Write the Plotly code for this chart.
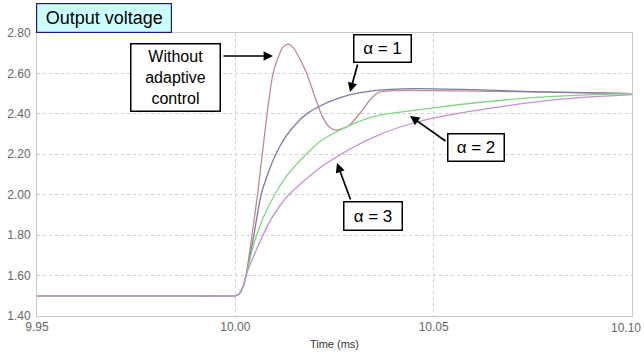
import plotly.graph_objects as go

# ---- data ----
t_noadapt = [9.95, 9.990, 10.000, 10.0010, 10.0020, 10.0027, 10.0042, 10.0056, 10.0068, 10.0080, 10.0095,
             10.0108, 10.0120, 10.0133, 10.0147, 10.0163, 10.0180, 10.0203, 10.0220, 10.0237, 10.0254,
             10.0285, 10.0317, 10.0340, 10.0360, 10.040, 10.050, 10.070, 10.085, 10.100]
v_noadapt = [1.50, 1.50, 1.50, 1.51, 1.55, 1.60, 1.80, 2.00, 2.20, 2.40, 2.60,
             2.68, 2.73, 2.745, 2.725, 2.67, 2.60, 2.47, 2.385, 2.335, 2.32,
             2.34, 2.41, 2.47, 2.505, 2.515, 2.515, 2.51, 2.505, 2.50]

t_a1 = [9.95, 9.990, 10.000, 10.0010, 10.0020, 10.0027, 10.0045, 10.0065, 10.0085, 10.0102, 10.0128,
        10.0155, 10.0180, 10.0215, 10.0250, 10.0290, 10.0350, 10.045, 10.060, 10.075, 10.100]
v_a1 = [1.50, 1.50, 1.50, 1.51, 1.55, 1.60, 1.78, 2.00, 2.12, 2.20, 2.29,
        2.355, 2.40, 2.44, 2.47, 2.495, 2.515, 2.525, 2.52, 2.51, 2.50]

t_a2 = [9.95, 9.990, 10.000, 10.0010, 10.0020, 10.0027, 10.0047, 10.0070, 10.0095, 10.0128, 10.0171,
        10.0211, 10.0254, 10.0297, 10.0355, 10.044, 10.050, 10.0584, 10.075, 10.090, 10.100]
v_a2 = [1.50, 1.50, 1.50, 1.51, 1.55, 1.60, 1.76, 1.885, 1.985, 2.09, 2.185,
        2.26, 2.31, 2.35, 2.39, 2.415, 2.43, 2.45, 2.48, 2.495, 2.50]

t_a3 = [9.95, 9.990, 10.000, 10.0010, 10.0020, 10.0027, 10.0065, 10.0095, 10.0128, 10.0171, 10.0211,
        10.0254, 10.0297, 10.0355, 10.0415, 10.050, 10.0667, 10.0836, 10.100]
v_a3 = [1.50, 1.50, 1.50, 1.51, 1.55, 1.60, 1.78, 1.895, 1.985, 2.065, 2.13,
        2.185, 2.235, 2.29, 2.335, 2.38, 2.435, 2.475, 2.495]

x_ticks = [9.95, 10.00, 10.05, 10.10]
x_labels = ["9.95", "10.00", "10.05", ""]
last_x_label = "10.10"
y_ticks = [1.40, 1.60, 1.80, 2.00, 2.20, 2.40, 2.60, 2.80]

FONT = "Arial, Liberation Sans, sans-serif"

# plot-area geometry (pixels) used to place the callout boxes/arrows
L, R, T, B = 37, 632, 33, 316
X0, X1, Y0, Y1 = 9.95, 10.10, 1.40, 2.80


def px_to_data(px, py):
    return (X0 + (px - L) * (X1 - X0) / (R - L), Y1 - (py - T) * (Y1 - Y0) / (B - T))


fig = go.Figure()
series = [
    (t_noadapt, v_noadapt, "#c48a8a", "Without adaptive control"),
    (t_a1, v_a1, "#7c7ca4", "α = 1"),
    (t_a2, v_a2, "#80d880", "α = 2"),
    (t_a3, v_a3, "#c88ed8", "α = 3"),
]
for t, v, c, n in series:
    fig.add_trace(go.Scatter(x=t, y=v, mode="lines", name=n,
                             line=dict(color=c, width=1.3, shape="spline", smoothing=0.7)))

fig.update_layout(
    width=644, height=358,
    margin=dict(l=L, r=644 - R, t=T, b=358 - B),
    paper_bgcolor="white", plot_bgcolor="white",
    showlegend=False,
    font=dict(family=FONT, color="#555555", size=11),
)
fig.update_xaxes(range=[X0 - 1e-6, X1 + 1e-6], tickvals=x_ticks, ticktext=x_labels,
                 automargin=False,
                 showgrid=True, gridcolor="#cfcfcf", griddash="dot", gridwidth=1,
                 showline=True, linecolor="#c8c8c8", linewidth=1, mirror=True,
                 zeroline=False, ticks="", tickfont=dict(size=12, color="#666666"),
                 title=dict(text="Time (ms)", font=dict(size=11, color="#333333"), standoff=6))
fig.update_yaxes(range=[Y0, Y1], tickvals=y_ticks, tickformat=".2f", automargin=False,
                 showgrid=True, gridcolor="#cfcfcf", griddash="dot", gridwidth=1,
                 showline=True, linecolor="#c8c8c8", linewidth=1, mirror=True,
                 zeroline=False, ticks="", tickfont=dict(size=12, color="#666666"),
                 ticklabelstandoff=3)

# last x tick label, kept inside the page
fig.add_annotation(xref="paper", yref="paper", x=1.0, y=0.0, xanchor="right", yanchor="top",
                   xshift=11, yshift=-3, text=last_x_label, showarrow=False,
                   font=dict(family=FONT, size=12, color="#666666"))

# Title box
fig.add_annotation(xref="paper", yref="paper", x=0.0, y=1.0, xanchor="left", yanchor="bottom",
                   xshift=-1, yshift=0, text="Output voltage", showarrow=False,
                   font=dict(family=FONT, size=18, color="black"),
                   bgcolor="#ccffff", bordercolor="#1a1a8c", borderwidth=1.2, borderpad=0,
                   width=134, height=28, align="center")


def box(text, cx, cy, w, h, size=17):
    x, y = px_to_data(cx, cy)
    fig.add_annotation(x=x, y=y, xref="x", yref="y", text=text, showarrow=False,
                       font=dict(family=FONT, size=size, color="black"),
                       bgcolor="white", bordercolor="black", borderwidth=1.5, borderpad=0,
                       width=w, height=h, align="center")


def arrow(tail, tip):
    tx, ty = px_to_data(*tip)
    ax, ay = px_to_data(*tail)
    fig.add_annotation(x=tx, y=ty, xref="x", yref="y", axref="x", ayref="y", ax=ax, ay=ay,
                       text="", showarrow=True, arrowhead=2, arrowsize=1.1, arrowwidth=1.7,
                       arrowcolor="black", standoff=0, startstandoff=0)


arrow((222, 56), (273, 56))
arrow((358, 63), (350, 92))
arrow((447, 142), (410, 116))
arrow((351, 201), (337, 163))

box("Without<br>adaptive<br>control", 175.5, 77.5, 88, 66, size=16)
box("α = 1", 382.5, 48.5, 56, 26)
box("α = 2", 476, 147.5, 55, 26)
box("α = 3", 373, 216, 57, 27)

fig.write_html("out.html")
